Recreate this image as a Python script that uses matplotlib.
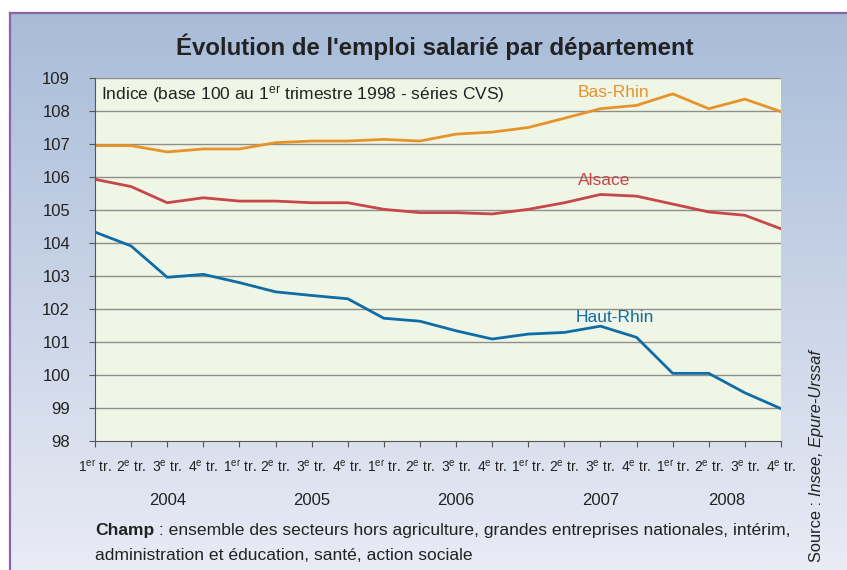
"""Evolution de l'emploi salarie par departement (Alsace)."""

import numpy as np
import matplotlib
matplotlib.use("Agg")
import matplotlib.pyplot as plt
from matplotlib.transforms import offset_copy

# ---------------------------------------------------------------------------
# Data
# ---------------------------------------------------------------------------
QUARTERS = [r"1$^{\mathrm{er}}$ tr.", r"2$^{\mathrm{e}}$ tr.",
            r"3$^{\mathrm{e}}$ tr.", r"4$^{\mathrm{e}}$ tr."] * 5
YEARS = ["2004", "2005", "2006", "2007", "2008"]

BAS_RHIN = [106.95, 106.95, 106.76, 106.85, 106.85, 107.04, 107.09, 107.09,
            107.14, 107.09, 107.30, 107.36, 107.50, 107.78, 108.07, 108.17,
            108.52, 108.07, 108.36, 107.98]
ALSACE = [105.93, 105.71, 105.22, 105.37, 105.27, 105.27, 105.22, 105.22,
          105.02, 104.92, 104.92, 104.88, 105.02, 105.22, 105.47, 105.42,
          105.18, 104.94, 104.84, 104.43]
HAUT_RHIN = [104.33, 103.91, 102.96, 103.05, 102.80, 102.52, 102.41, 102.31,
             101.72, 101.63, 101.34, 101.09, 101.24, 101.29, 101.48, 101.14,
             100.05, 100.05, 99.46, 98.98]

plt.rcParams["font.family"] = ["Liberation Sans", "DejaVu Sans"]
plt.rcParams["mathtext.fontset"] = "custom"
plt.rcParams["mathtext.rm"] = "Liberation Sans"
plt.rcParams["mathtext.it"] = "Liberation Sans:italic"
plt.rcParams["mathtext.bf"] = "Liberation Sans:bold"

TXT = "#222222"
W, H = 847, 570
fig = plt.figure(figsize=(W / 100, H / 100), dpi=100)
fig.patch.set_facecolor("white")

# background panel with vertical gradient
bg = fig.add_axes([10 / W, 0, 1 - 10 / W, (H - 13) / H])
top_c = np.array([0xa8, 0xbc, 0xd8]) / 255
bot_c = np.array([0xe9, 0xeb, 0xf5]) / 255
t = np.linspace(0, 1, 256)[:, None]
grad = top_c[None, :] * (1 - t[..., None]) + bot_c[None, :] * t[..., None]
bg.imshow(grad, aspect="auto", extent=[0, 1, 0, 1])
bg.set_xlim(0, 1)
bg.set_ylim(0, 1)
bg.axis("off")
fig.add_artist(plt.Line2D([10 / W, 1], [(H - 13) / H] * 2, color="#8a64a8", lw=1.6))
fig.add_artist(plt.Line2D([10 / W] * 2, [0, (H - 13) / H], color="#8a64a8", lw=1.6))

# main plot
ax = fig.add_axes([95 / W, (H - 441) / H, (781 - 95) / W, (441 - 78) / H])
ax.set_facecolor("#f0f6e6")
x = np.arange(len(BAS_RHIN))
ax.plot(x, BAS_RHIN, color="#e8922a", lw=2.0)
ax.plot(x, ALSACE, color="#c6474a", lw=2.0)
ax.plot(x, HAUT_RHIN, color="#106ca6", lw=2.0)

ax.set_xlim(0, 19)
ax.set_ylim(98, 109)
ax.set_yticks(range(98, 110))
ax.set_xticks(x)
ax.set_xticklabels(QUARTERS)
for v in range(99, 110):
    ax.axhline(v, color="#8e8e8e", lw=1.0, zorder=0)
for s in ["top", "right"]:
    ax.spines[s].set_visible(False)
ax.spines["left"].set_color("#555555")
ax.spines["bottom"].set_color("#555555")
ax.tick_params(axis="y", length=4, color="#555555", labelsize=12,
               labelcolor=TXT, pad=14)
ax.tick_params(axis="x", length=4, color="#555555", labelsize=10,
               labelcolor=TXT, pad=9)

for i, yr in enumerate(YEARS):
    xpos = 2 + 4 * i if i < 4 else 17.5
    ax.text(xpos, -0.163, yr, transform=ax.get_xaxis_transform(),
            ha="center", va="center", fontsize=12, color=TXT)

ax.text(0.16, 108.48, r"Indice (base 100 au 1$^{\mathrm{er}}$ trimestre 1998 - séries CVS)",
        fontsize=12.5, color=TXT, va="center", ha="left")
ax.text(14.35, 108.55, "Bas-Rhin", color="#e8922a", fontsize=12.5, ha="center", va="center")
ax.text(14.1, 105.9, "Alsace", color="#c6474a", fontsize=12.5, ha="center", va="center")
ax.text(14.4, 101.75, "Haut-Rhin", color="#106ca6", fontsize=12.5, ha="center", va="center")

fig.text(435 / W, 1 - 47 / H, "Évolution de l'emploi salarié par département",
         fontsize=17.3, fontweight="bold", ha="center", va="center", color=TXT)

renderer = fig.canvas.get_renderer()

# footnote: bold "Champ" followed by regular text
champ = fig.text(95 / W, 1 - 531 / H, "Champ", fontsize=12.6, fontweight="bold",
                 ha="left", va="center", color=TXT)
cw = champ.get_window_extent(renderer=renderer).width
fig.text(95 / W, 1 - 531 / H,
         " : ensemble des secteurs hors agriculture, grandes entreprises nationales, intérim,",
         fontsize=12.6, ha="left", va="center", color=TXT,
         transform=offset_copy(fig.transFigure, fig=fig, x=cw, y=0, units="dots"))
fig.text(95 / W, 1 - 555 / H, "administration et éducation, santé, action sociale",
         fontsize=12.6, ha="left", va="center", color=TXT)

# source, rotated: upright "Source :" then italic names
src = fig.text(816 / W, 1 - 562 / H, "Source : ", rotation=90, fontsize=11.8,
               ha="center", va="bottom", color=TXT)
sh = src.get_window_extent(renderer=renderer).height
fig.text(816 / W, 1 - 562 / H, "Insee, Epure-Urssaf", rotation=90, fontsize=11.8,
         style="italic", ha="center", va="bottom", color=TXT,
         transform=offset_copy(fig.transFigure, fig=fig, x=0, y=sh, units="dots"))

fig.savefig("out.png", dpi=100)
